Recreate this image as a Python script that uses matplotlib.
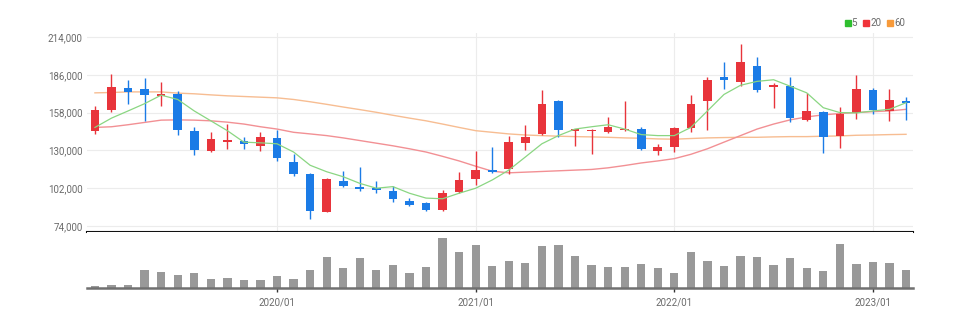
import matplotlib
matplotlib.use("Agg")
import matplotlib.pyplot as plt
from matplotlib.lines import Line2D

plt.rcParams['font.family'] = ['Liberation Sans Narrow', 'Roboto', 'DejaVu Sans']

# monthly candles, 2019/02 .. 2023/03
months = ["2019/02", "2019/03", "2019/04", "2019/05", "2019/06", "2019/07", "2019/08",
          "2019/09", "2019/10", "2019/11", "2019/12",
          "2020/01", "2020/02", "2020/03", "2020/04", "2020/05", "2020/06", "2020/07",
          "2020/08", "2020/09", "2020/10", "2020/11", "2020/12",
          "2021/01", "2021/02", "2021/03", "2021/04", "2021/05", "2021/06", "2021/07",
          "2021/08", "2021/09", "2021/10", "2021/11", "2021/12",
          "2022/01", "2022/02", "2022/03", "2022/04", "2022/05", "2022/06", "2022/07",
          "2022/08", "2022/09", "2022/10", "2022/11", "2022/12",
          "2023/01", "2023/02", "2023/03"]

opens = [144100, 159700, 176300, 175500, 170400, 171900, 144100, 129500, 136300, 137300, 133600,
         139200, 121500, 112900, 84500, 107600, 103200, 102000, 99800, 92700, 90800, 85700, 99300,
         108600, 115400, 115900, 135400, 142200, 166500, 144400, 144100, 143400, 144800, 145800, 129500,
         132400, 146500, 166500, 184300, 180400, 192800, 177000, 178000, 152400, 158700, 140500, 158000,
         174800, 159000, 166800]
closes = [159700, 177200, 173300, 171100, 171600, 145300, 130000, 138500, 137500, 134400, 139700,
          124400, 112900, 85400, 108800, 103700, 101700, 100500, 94200, 89800, 85700, 98800, 108100,
          115600, 113900, 136100, 139700, 164600, 145100, 145600, 145300, 147000, 146100, 131200, 132400,
          146500, 164600, 182300, 182100, 195700, 174800, 178400, 154300, 159200, 140200, 156800, 175800,
          159700, 167200, 165100]
highs = [162900, 186500, 182300, 183600, 180600, 174300, 147000, 143400, 149500, 139700, 143900,
         145100, 127600, 113400, 109500, 114900, 117800, 107600, 103700, 94700, 91500, 100800, 114200,
         129500, 132400, 141000, 149000, 175000, 167500, 146000, 145500, 154800, 166500, 147500, 134400,
         147000, 170900, 184000, 195700, 209100, 199400, 179900, 184000, 172600, 159200, 162100, 186000,
         176300, 175800, 169400]
lows = [142200, 158700, 164100, 151900, 162600, 141400, 126300, 129000, 131200, 131200, 129300,
        122200, 111000, 79300, 84200, 103200, 100300, 98300, 92000, 89100, 85200, 85200, 98300,
        104200, 113400, 112900, 130000, 141700, 139700, 133600, 127600, 142700, 144600, 130000, 126300,
        128800, 143400, 145100, 175800, 177500, 173300, 161700, 150700, 151900, 128300, 131700, 153100,
        157300, 151900, 152400]
volumes = [1, 2.3, 2, 16.7, 15, 12.3, 13.7, 8, 9.7, 7, 7.3,
           11, 8.7, 17.3, 30, 19, 28.7, 17.3, 21.7, 13.7, 19.7, 48, 34.3,
           41, 21.3, 25.7, 24, 40.7, 41.7, 30.3, 21.7, 19.7, 20, 22.7, 19,
           14, 34.3, 25.7, 21.3, 30.3, 30, 21.7, 28.7, 19, 16, 42, 22.7,
           24.7, 24, 17]

ma5 = [147000, 153900, 159200, 164600, 170900, 167700, 159200, 151900, 144600, 136100, 135600,
       134900, 128800, 119000, 114200, 110500, 105600, 102000, 103200, 98300, 94700, 94200, 98300,
       102000, 108100, 115400, 125100, 134900, 140950, 145800, 147500, 149000, 145800, 141700, 140950,
       140950, 147000, 159200, 171400, 178200, 181100, 182300, 177500, 172600, 161600, 158000, 157750,
       159200, 160400, 165300]
ma20 = [147000, 147500, 149000, 150700, 152400, 152600, 152400, 151900, 150900, 149500, 147500,
        145800, 143400, 142200, 140950, 139250, 137300, 135350, 133400, 131200, 128800, 125600, 122200,
        118300, 114600, 113400, 113900, 114400, 114900, 115400, 115900, 117100, 118800, 120700, 122200,
        123900, 127100, 131200, 136100, 140950, 145800, 149500, 152600, 154800, 156300, 157300, 158000,
        158700, 159200, 160400]
ma60 = [172600, 172850, 173300, 173300, 173300, 172400, 171900, 171100, 170400, 169900, 169400,
        168900, 167700, 166000, 164100, 162100, 160200, 158200, 156000, 153900, 151900, 149500, 147000,
        144600, 143400, 142200, 141400, 140950, 140500, 140200, 140000, 139700, 139250, 139000, 138500,
        138300, 138800, 139250, 139500, 139700, 139700, 140000, 140200, 140200, 140500, 140700, 141200,
        141400, 141700, 141900]

price_ticks = [74000, 102000, 130000, 158000, 186000, 214000]
year_ticks = ["2020/01", "2021/01", "2022/01", "2023/01"]

UP = "#e8343b"
DOWN = "#1b7be6"
TXT = "#6a6a6a"

fig = plt.figure(figsize=(9.7, 3.23), dpi=100)
ax = fig.add_axes([87 / 970, 1 - 232 / 323, 826 / 970, 199 / 323])
axv = fig.add_axes([87 / 970, 1 - 287.5 / 323, 826 / 970, 55.5 / 323], sharex=ax)

x = list(range(len(months)))
year_pos = [months.index(m) for m in year_ticks]

# candles
for i in x:
    o, c, h, l = opens[i], closes[i], highs[i], lows[i]
    col = UP if c >= o else DOWN
    ax.vlines(i, l, h, color=col, linewidth=1, zorder=3)
    lo, hi = min(o, c), max(o, c)
    if hi - lo < 1200:
        lo, hi = (lo + hi) / 2 - 600, (lo + hi) / 2 + 600
    ax.bar(i, hi - lo, bottom=lo, width=0.52, color=col, linewidth=0, zorder=4)

# moving averages
ax.plot(x, ma60, color="#f7bd92", linewidth=1.0, zorder=2)
ax.plot(x, ma20, color="#f29094", linewidth=1.0, zorder=2)
ax.plot(x, ma5, color="#8ad682", linewidth=0.9, zorder=5)

ax.set_xlim(-0.48, 49.42)
ax.set_ylim(69600, 216900)
ax.set_yticks(price_ticks)
ax.set_yticklabels([f"{v:,}" for v in price_ticks])
ax.tick_params(axis="y", length=0, labelsize=7, colors=TXT, pad=3)
ax.tick_params(axis="x", length=0, labelbottom=False)
ax.set_xticks(year_pos)
ax.grid(True, color="#ececec", linewidth=0.8)
ax.set_axisbelow(True)
for s in ["top", "right", "left"]:
    ax.spines[s].set_visible(False)
ax.spines["bottom"].set_color("#111111")
ax.spines["bottom"].set_linewidth(1.5)

# legend
handles = [Line2D([], [], marker="s", linestyle="none", color=c, markersize=5)
           for c in ["#2fbf2f", "#f0333a", "#f79a3a"]]
ax.legend(handles, ["5", "20", "60"], ncol=3, loc="lower right", bbox_to_anchor=(1.0, 0.985),
          frameon=False, fontsize=7, labelcolor=TXT, handletextpad=-0.1, columnspacing=0.45,
          borderpad=0.3, handlelength=1.0)

# volume
axv.bar(x, volumes, width=0.5, color="#999999", linewidth=0)
axv.set_ylim(0, 54)
axv.set_yticks([])
axv.set_xticks(year_pos)
axv.set_xticklabels(year_ticks)
axv.tick_params(axis="x", length=3, width=1, color="#333333", labelsize=7, labelcolor=TXT, pad=4)
for s in ["top", "right", "left"]:
    axv.spines[s].set_visible(False)
axv.spines["bottom"].set_color("#707070")
axv.spines["bottom"].set_linewidth(1.8)

fig.savefig("out.png", dpi=100, facecolor="white")
